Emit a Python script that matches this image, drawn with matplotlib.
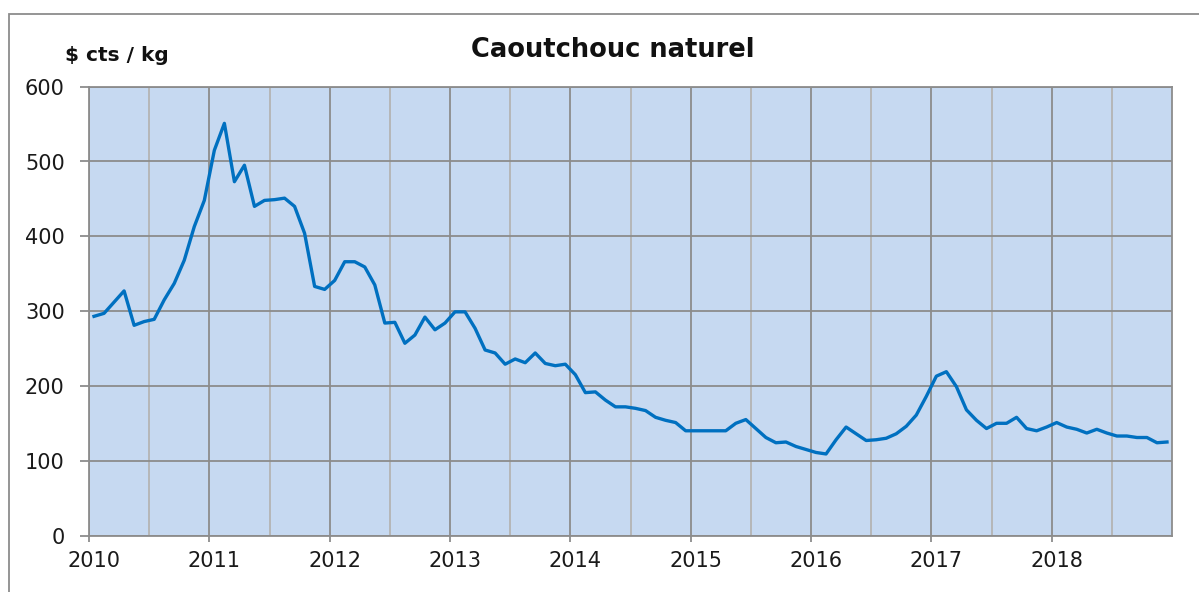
import numpy as np
import matplotlib
matplotlib.use("Agg")
import matplotlib.pyplot as plt
import matplotlib.transforms as mtransforms
from matplotlib.patches import Rectangle

# monthly price, US cents per kg, Jan 2010 .. Dec 2018
years = list(range(2010, 2019))
price_2010 = [293, 297, 312, 327, 281, 286, 289, 315, 337, 368, 413, 448]
price_2011 = [515, 551, 473, 495, 440, 448, 449, 451, 440, 404, 333, 329]
price_2012 = [341, 366, 366, 359, 335, 284, 285, 257, 268, 292, 275, 284]
price_2013 = [299, 299, 277, 248, 244, 229, 236, 231, 244, 230, 227, 229]
price_2014 = [215, 191, 192, 181, 172, 172, 170, 167, 158, 154, 151, 140]
price_2015 = [140, 140, 140, 140, 150, 155, 143, 131, 124, 125, 119, 115]
price_2016 = [111, 109, 128, 145, 136, 127, 128, 130, 136, 146, 161, 186]
price_2017 = [213, 219, 199, 168, 154, 143, 150, 150, 158, 143, 140, 145]
price_2018 = [151, 145, 142, 137, 142, 137, 133, 133, 131, 131, 124, 125]

prices = (price_2010 + price_2011 + price_2012 + price_2013 + price_2014
          + price_2015 + price_2016 + price_2017 + price_2018)
months = years[0] + (np.arange(len(prices)) + 0.5) / 12.0

title = "Caoutchouc naturel"
unit = "$ cts / kg"

W, H = 1199, 592
fig = plt.figure(figsize=(W / 100, H / 100), dpi=100)
ax = fig.add_axes([89 / W, 1 - 535.5 / H, (1172 - 89) / W, (535.5 - 86.7) / H])

ax.set_facecolor("#C6D9F1")
ax.plot(months, prices, color="#0070C0", lw=2.4, solid_joinstyle="round", zorder=3)

ax.set_xlim(2010, 2019)
ax.set_ylim(0, 600)
ax.set_xticks(years)
ax.set_xticklabels([str(y) for y in years])
ax.set_xticks(np.arange(2010.5, 2019, 1.0), minor=True)
ax.set_yticks(range(0, 601, 100))

ax.grid(True, which="major", color="#8C8C8C", lw=1.3)
ax.grid(True, which="minor", axis="x", color="#B4B4B4", lw=1.3)
ax.set_axisbelow(True)

for s in ax.spines.values():
    s.set_color("#8C8C8C")
    s.set_linewidth(1.3)

ax.tick_params(axis="y", length=6.5, width=1.3, color="#8C8C8C", pad=11,
               labelsize=15, labelcolor="#1A1A1A")
ax.tick_params(axis="x", which="major", length=4.5, width=1.3, color="#8C8C8C",
               pad=7, labelsize=15, labelcolor="#1A1A1A")
ax.tick_params(axis="x", which="minor", length=0)

# year labels sit a little right of their ticks
shift = mtransforms.ScaledTranslation(5 / 100, 0, fig.dpi_scale_trans)
for lab in ax.get_xticklabels():
    lab.set_transform(lab.get_transform() + shift)

fig.text(612.5 / W, 1 - 57 / H, title, ha="center", va="baseline",
         fontsize=18.5, fontweight="bold", family="DejaVu Sans", color="#111111")
fig.text(65 / W, 1 - 60.7 / H, unit, ha="left", va="baseline",
         fontsize=14.5, fontweight="bold", family="DejaVu Sans", color="#111111")

# outer chart frame
fig.patches.append(Rectangle((9 / W, -0.1), 1.2, 1.1 - 14 / H,
                             transform=fig.transFigure, fill=False,
                             edgecolor="#8C8C8C", lw=1.3))

fig.savefig("out.png", dpi=100)
